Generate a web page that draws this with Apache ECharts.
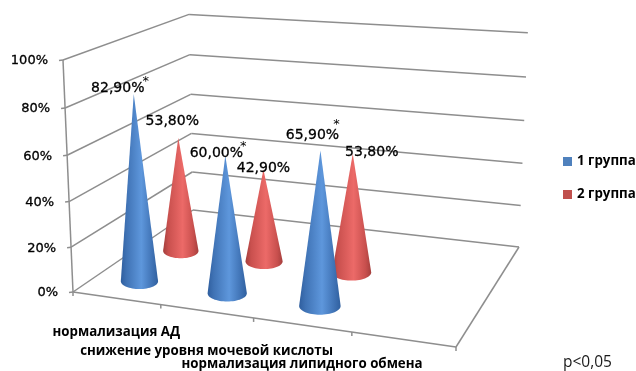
<!DOCTYPE html>
<html>
<head>
<meta charset="utf-8">
<style>html,body{margin:0;padding:0;background:#fff}#chart{width:636px;height:371px}</style>
<script src="https://cdn.jsdelivr.net/npm/echarts@6/dist/echarts.min.js"></script>
</head>
<body>
<div id="chart"></div>
<script>
// Chart data
const categories = ['нормализация АД', 'снижение уровня мочевой кислоты', 'нормализация липидного обмена', ''];
const group1 = [82.9, 60.0, 65.9];
const group2 = [53.8, 42.9, 53.8];
const group1Labels = ['82,90%', '60,00%', '65,90%'];
const group2Labels = ['53,80%', '42,90%', '53,80%'];
const valueTicks = [0, 20, 40, 60, 80, 100];

// Camera: screen corners of the floor (front-left, front-right, back-right, back-left)
// and how the full value height enters the projective divide
const floorQuad = [[73, 292], [456, 347], [519, 247], [193, 210]];
const heightTerm = { x: -12.66, y: -234.5, w: -0.0422 };
const seriesDepth = [0.175, 0.52];
const coneRadius = 0.218;
const GRID = { left: 0, top: 0, width: 300, height: 300 };

// Hand placement of the value labels relative to each cone tip
const group1LabelOffset = [[-16, -6], [-9, -2], [-8, -15]];
const group2LabelOffset = [[-6, -16], [0, -1], [19, -1]];
const starOffset = [[12, -12], [18, -9], [16, -26]];
const categoryLabelDrop = [34, 40, 39];

function homography(q) {
  const [[x0, y0], [x1, y1], [x2, y2], [x3, y3]] = q;
  const dx1 = x1 - x2, dx2 = x3 - x2, sx = x0 - x1 + x2 - x3;
  const dy1 = y1 - y2, dy2 = y3 - y2, sy = y0 - y1 + y2 - y3;
  const den = dx1 * dy2 - dx2 * dy1;
  const g = (sx * dy2 - dx2 * sy) / den, h = (dx1 * sy - sx * dy1) / den;
  return [x1 - x0 + g * x1, x3 - x0 + h * x3, x0, y1 - y0 + g * y1, y3 - y0 + h * y3, y0, g, h];
}
const floorH = homography(floorQuad);

// Flat axis coordinates (category position, value) plus a depth go through the camera to the screen
function project(api, cat, value, depth) {
  const p = api.coord([cat, value]);
  const u = (p[0] - GRID.left) / GRID.width;
  const v = depth;
  const z = (GRID.top + GRID.height - p[1]) / GRID.height;
  const m = floorH;
  const w = m[6] * u + m[7] * v + 1 + heightTerm.w * z;
  return [(m[0] * u + m[1] * v + m[2] + heightTerm.x * z) / w,
          (m[3] * u + m[4] * v + m[5] + heightTerm.y * z) / w];
}

const GRID_COLOR = '#8e8e8e';
function line(a, b, width) {
  return { type: 'line', shape: { x1: a[0], y1: a[1], x2: b[0], y2: b[1] },
    style: { stroke: GRID_COLOR, lineWidth: width || 1.5 }, silent: true };
}
const TEXT_FONT = 'DejaVu Sans';

function renderFrame(params, api) {
  const kids = [];
  const n = categories.length;
  valueTicks.forEach(t => {
    const a = project(api, 0, t, 0), c = project(api, 0, t, 1), d = project(api, n, t, 1);
    kids.push(line(a, c), line(c, d), line(a, [a[0] - 4, a[1] + 0.5]));
    kids.push({ type: 'text', x: a[0] - 15, y: a[1] + 1, silent: true,
      style: { text: t + '%', align: 'right', verticalAlign: 'middle', fill: '#000',
        stroke: '#000', lineWidth: 0.3, font: '13px "' + TEXT_FONT + '"' } });
  });
  kids.push(line(project(api, 0, 0, 0), project(api, 0, 100, 0)));
  const fr = project(api, n, 0, 0), br = project(api, n, 0, 1);
  kids.push(line(project(api, 0, 0, 0), fr), line(fr, br));
  for (let i = 0; i <= n; i++) {
    const p = project(api, i, 0, 0);
    kids.push(line(p, [p[0], p[1] + 4]));
  }
  categories.forEach((name, i) => {
    if (!name) return;
    const p = project(api, i + 0.5, 0, 0);
    kids.push({ type: 'text', x: p[0], y: p[1] + categoryLabelDrop[i], silent: true,
      style: { text: name, align: 'center', verticalAlign: 'middle', fill: '#000',
        font: 'bold 13.3px "Open Sans"' } });
  });
  return { type: 'group', children: kids };
}

function coneRenderer(depth, fill, labels, labelOffset, stars) {
  return function (params, api) {
    const cat = api.value(0), value = api.value(1);
    const base = project(api, cat, 0, depth);
    const tip = project(api, cat, value, depth);
    const l = project(api, cat - coneRadius, 0, depth), r = project(api, cat + coneRadius, 0, depth);
    const rx = (r[0] - l[0]) / 2, ry = rx * 0.42;
    // Outline: apex, then the near half of the base ellipse
    const outline = [tip];
    const N = 32;
    for (let i = 0; i <= N; i++) {
      const a = Math.PI * i / N;
      outline.push([base[0] - rx * Math.cos(a), base[1] + ry * Math.sin(a)]);
    }
    const kids = [{ type: 'polygon', silent: true, shape: { points: outline },
      style: { fill: new echarts.graphic.LinearGradient(0, 0, 1, 0, fill) } }];
    const idx = params.dataIndex;
    const off = labelOffset[idx];
    kids.push({ type: 'text', x: tip[0] + off[0], y: tip[1] + off[1], silent: true,
      style: { text: labels[idx], align: 'center', verticalAlign: 'middle', fill: '#000',
        stroke: '#000', lineWidth: 0.3, font: '14px "' + TEXT_FONT + '"' } });
    if (stars) {
      kids.push({ type: 'text', x: tip[0] + stars[idx][0], y: tip[1] + stars[idx][1], silent: true,
        style: { text: '*', align: 'center', verticalAlign: 'middle', fill: '#000', font: '13px "' + TEXT_FONT + '"' } });
    }
    return { type: 'group', children: kids };
  };
}

const blueFill = [
  { offset: 0, color: '#2f5e9e' }, { offset: 0.15, color: '#3f72b4' },
  { offset: 0.55, color: '#5e97dc' }, { offset: 0.85, color: '#3f72b4' }, { offset: 1, color: '#30609f' }
];
const redFill = [
  { offset: 0, color: '#a33e3c' }, { offset: 0.15, color: '#c9504e' },
  { offset: 0.55, color: '#ec6a68' }, { offset: 0.85, color: '#c9504e' }, { offset: 1, color: '#a53f3d' }
];

const points = arr => arr.map((v, i) => [i + 0.5, v]);

const chart = echarts.init(document.getElementById('chart'));
chart.setOption({
  animation: false,
  backgroundColor: '#fff',
  grid: Object.assign({ containLabel: false }, GRID),
  xAxis: { type: 'value', min: 0, max: categories.length, show: false },
  yAxis: { type: 'value', min: 0, max: 100, interval: 20, show: false },
  legend: {
    orient: 'vertical', left: 558, top: 150, itemGap: 20, itemWidth: 9, itemHeight: 9, icon: 'rect',
    selectedMode: false, data: ['1 группа', '2 группа'],
    textStyle: { color: '#000', fontFamily: 'Open Sans', fontWeight: 'bold', fontSize: 13.3 }
  },
  graphic: [{ type: 'text', left: 563, top: 355,
    style: { text: 'p<0,05', fill: '#1a1a1a', font: '15.5px "Open Sans"' } }],
  series: [
    { type: 'custom', name: 'frame', coordinateSystem: 'cartesian2d', renderItem: renderFrame,
      data: [[0, 0]], silent: true, z: 1, clip: false },
    { type: 'custom', name: '2 группа', coordinateSystem: 'cartesian2d', z: 2, clip: false,
      itemStyle: { color: '#c0504d' },
      renderItem: coneRenderer(seriesDepth[1], redFill, group2Labels, group2LabelOffset, null), data: points(group2) },
    { type: 'custom', name: '1 группа', coordinateSystem: 'cartesian2d', z: 3, clip: false,
      itemStyle: { color: '#4f81bd' },
      renderItem: coneRenderer(seriesDepth[0], blueFill, group1Labels, group1LabelOffset, starOffset), data: points(group1) }
  ]
});
</script>
</body>
</html>
